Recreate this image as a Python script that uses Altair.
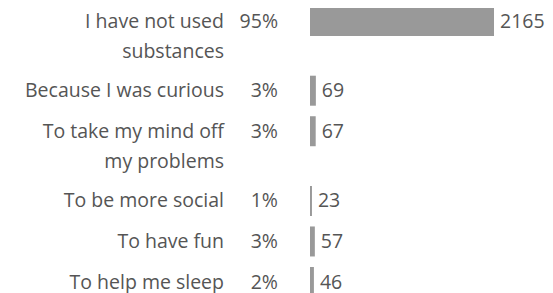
import altair as alt
import pandas as pd

labels = [
    "I have not used\nsubstances",
    "Because I was curious",
    "To take my mind off\nmy problems",
    "To be more social",
    "To have fun",
    "To help me sleep",
]
percents = ["95%", "3%", "3%", "1%", "3%", "2%"]
counts = [2165, 69, 67, 23, 57, 46]

df = pd.DataFrame({"label": labels, "pct": percents, "count": counts})
df["lines"] = df["label"].str.count("\n") + 1
df["weight"] = 1 + 0.72 * (df["lines"] - 1)
df["pos"] = df["weight"].cumsum() - df["weight"]

FONT = "Open Sans"
TXT = "#555555"
FS = 19.5

yenc = alt.Y("pos:Q", scale=alt.Scale(range=[13, 274], nice=False, zero=True, padding=0), axis=None)

base = alt.Chart(df)

bars = base.mark_bar(orient="horizontal", size=30, color="#999999").encode(
    x=alt.X("count:Q", scale=alt.Scale(domain=[0, 2165], range=[302, 486], nice=False, padding=0), axis=None),
    y=yenc,
)

counts_txt = base.mark_text(align="left", baseline="alphabetic", dx=6, dy=6.5, font=FONT, fontSize=FS, color=TXT).encode(
    x=alt.X("count:Q"),
    y=yenc,
    text="count:Q",
)

label_txt = base.mark_text(align="right", baseline="alphabetic", dy=6.5, font=FONT, fontSize=FS, color=TXT,
                           lineBreak="\n", lineHeight=30).encode(
    x=alt.value(216),
    y=yenc,
    text="label:N",
)

pct_txt = base.mark_text(align="right", baseline="alphabetic", dy=6.5, font=FONT, fontSize=FS, color=TXT).encode(
    x=alt.value(270),
    y=yenc,
    text="pct:N",
)

chart = alt.layer(bars, counts_txt, label_txt, pct_txt).properties(
    width=537, height=285, padding=0, autosize=alt.AutoSizeParams(type="none")
).configure_view(stroke=None)

chart.save("out.html", embed_options={"renderer": "svg", "actions": False})
